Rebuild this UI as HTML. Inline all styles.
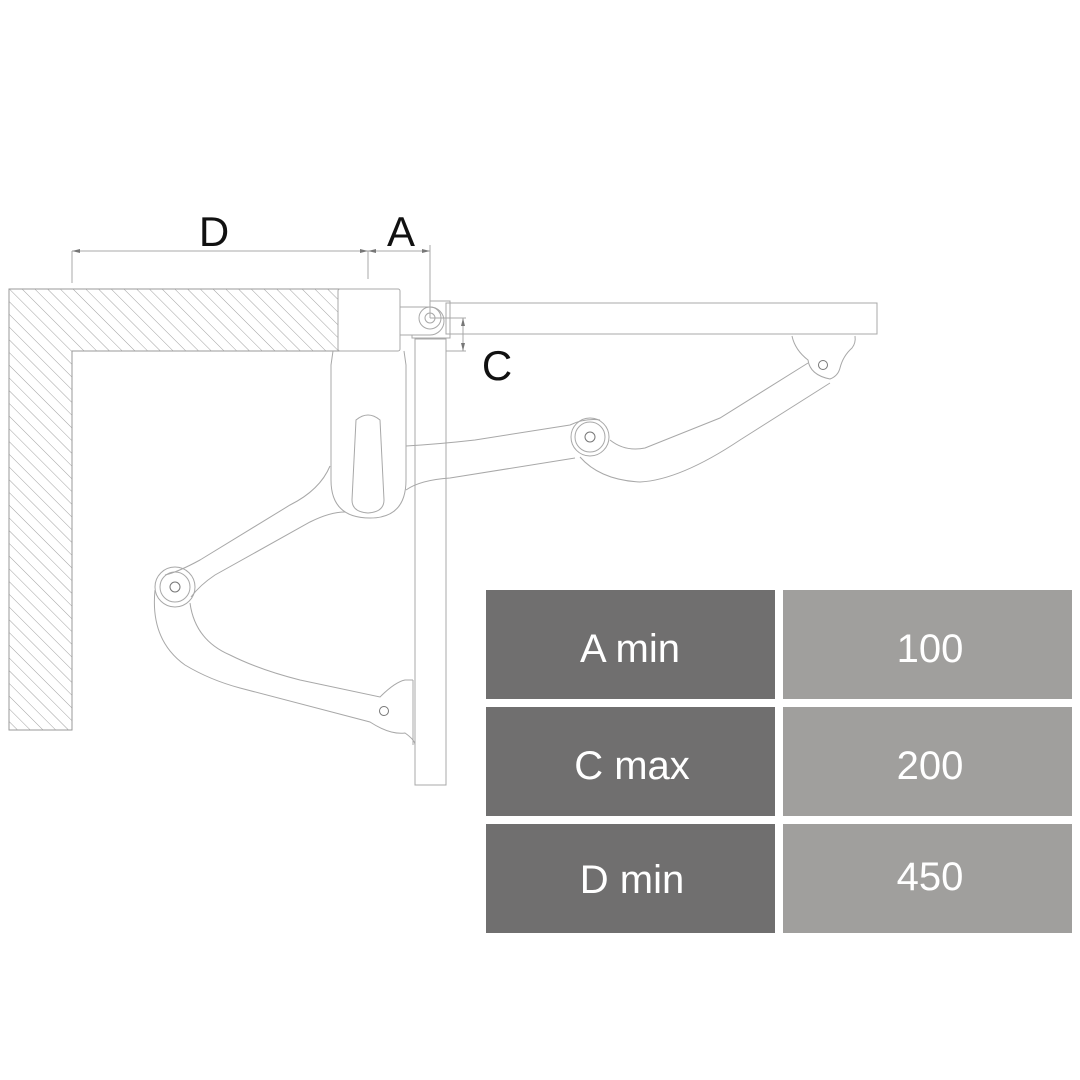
<!DOCTYPE html>
<html><head><meta charset="utf-8"><style>
html,body{margin:0;padding:0;background:#fff}
svg{display:block}
text{font-family:"Liberation Sans",sans-serif}
</style></head><body>
<svg width="1080" height="1080" viewBox="0 0 1080 1080" xmlns="http://www.w3.org/2000/svg">
<defs>
<pattern id="h" patternUnits="userSpaceOnUse" width="9" height="9" patternTransform="rotate(-45)">
<line x1="0" y1="0" x2="0" y2="9" stroke="#8a8a8a" stroke-width="0.8"/>
</pattern>
<clipPath id="wc"><path d="M9 289 H340 V351 H72 V730 H9 Z"/></clipPath>
</defs>
<rect width="1080" height="1080" fill="#fff"/>
<rect x="0" y="280" width="345" height="460" fill="url(#h)" clip-path="url(#wc)"/>
<path d="M9 289 H340 V351 H72 V730 H9 Z" fill="none" stroke="#999" stroke-width="1"/>
<g fill="none" stroke="#a8a8a8" stroke-width="1">
<rect x="338" y="289" width="62" height="62" rx="2" fill="#fff"/>
<path d="M400 307 H430 A11 11 0 0 1 430 335 H400"/>
<path d="M430 301 H450 V338 H412 V335"/>
<circle cx="430" cy="318" r="11"/>
<circle cx="430" cy="318" r="5"/>
<rect x="415" y="339" width="31" height="446"/>
<rect x="446" y="303" width="431" height="31"/>
<path d="M333 351 L331 365 L331 480 Q331 518 370 518 Q406 518 406 480 L406 365 L404 351"/>
<path d="M356 420 Q368 410 380 420 L384 500 Q384 512 368 513 Q352 512 352 500 Z"/>
<path d="M330 466 Q320 490 290 505 L200 560 Q178 572 165 575"/>
<path d="M345 512 Q330 512 310 522 L215 575 Q200 585 191 597"/>
<circle cx="175" cy="587" r="20"/>
<circle cx="175" cy="587" r="15"/>
<circle cx="175" cy="587" r="5" stroke="#777"/>
<path d="M155 590 Q150 640 185 665 Q210 680 240 688 L370 722 Q390 735 405 733 Q415 740 415 745"/>
<path d="M190 603 Q195 640 230 655 Q260 670 300 680 L380 697 Q395 682 405 680 L413 680"/>
<circle cx="384" cy="711" r="4.5" stroke="#777"/>
<line x1="413" y1="680" x2="413" y2="745"/>
<path d="M406 446 Q440 444 475 440 L570 425 Q585 418 600 420"/>
<path d="M406 490 Q420 480 450 478 L575 458"/>
<circle cx="590" cy="437" r="19"/>
<circle cx="590" cy="437" r="15"/>
<circle cx="590" cy="437" r="5" stroke="#777"/>
<path d="M610 440 Q625 452 645 448 L720 418 L808 363"/>
<path d="M580 457 Q600 480 640 482 Q680 480 740 440 L830 383"/>
<path d="M792 336 Q795 350 808 360 Q810 375 830 379 Q838 376 840 368 Q843 356 852 348 Q856 343 855 336"/>
<circle cx="823" cy="365" r="4.5" stroke="#777"/>
<line x1="72" y1="251" x2="430" y2="251"/>
<line x1="72" y1="251" x2="72" y2="283"/>
<line x1="368" y1="251" x2="368" y2="279"/>
<line x1="430" y1="245" x2="430" y2="318"/>
<line x1="430" y1="318" x2="466" y2="318"/>
<line x1="446" y1="351" x2="466" y2="351"/>
<line x1="463" y1="318" x2="463" y2="351"/>
</g>
<g fill="#777">
<path d="M72 251 l8 -2 v4 z"/><path d="M368 251 l-8 -2 v4 z"/>
<path d="M368 251 l8 -2 v4 z"/><path d="M430 251 l-8 -2 v4 z"/>
<path d="M463 318 l-2 8 h4 z"/><path d="M463 351 l-2 -8 h4 z"/>
</g>
<text x="214" y="246" font-size="42" text-anchor="middle" fill="#111">D</text>
<text x="401" y="246" font-size="42" text-anchor="middle" fill="#111">A</text>
<text x="497" y="380" font-size="42" text-anchor="middle" fill="#111">C</text>
<g font-size="40" fill="#fff" text-anchor="middle">
<rect x="486" y="590" width="289" height="109" fill="#706f6f"/>
<rect x="783" y="590" width="289" height="109" fill="#a09f9d"/>
<rect x="486" y="707" width="289" height="109" fill="#706f6f"/>
<rect x="783" y="707" width="289" height="109" fill="#a09f9d"/>
<rect x="486" y="824" width="289" height="109" fill="#706f6f"/>
<rect x="783" y="824" width="289" height="109" fill="#a09f9d"/>
<text x="630" y="662">A min</text><text x="930" y="662">100</text>
<text x="632" y="779">C max</text><text x="930" y="779">200</text>
<text x="632" y="893">D min</text><text x="930" y="890">450</text>
</g>
</svg>
</body></html>
